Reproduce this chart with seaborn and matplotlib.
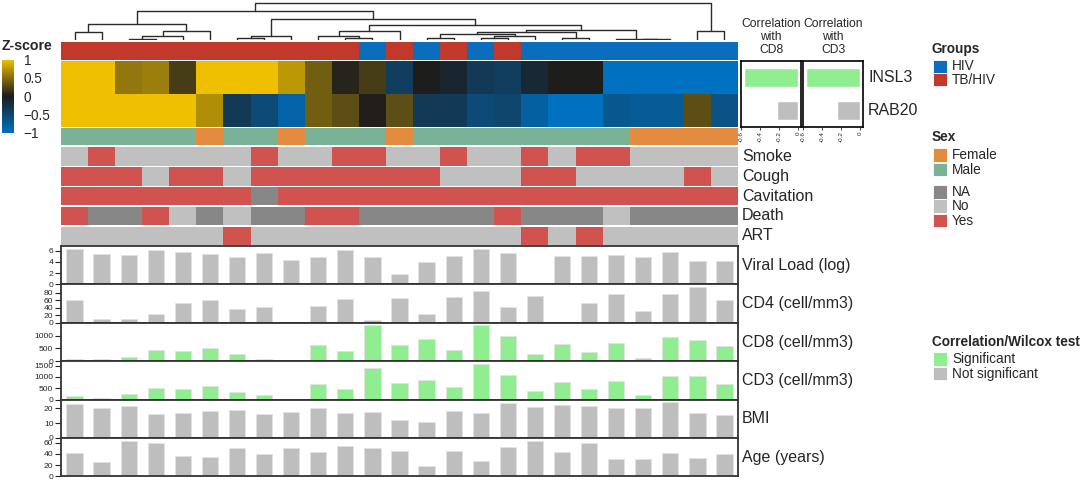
import numpy as np
import pandas as pd
import matplotlib.pyplot as plt
import seaborn as sns
from matplotlib.colors import LinearSegmentedColormap, ListedColormap
from matplotlib.patches import Rectangle

# ---- values ----
samples = [f"P{i + 1:02d}" for i in range(25)]
genes = ["INSL3", "RAB20"]

insl3 = [1, 1, 0.55, 0.6, 0.2, 1, 1, 1, 0.75, 0.4, 0.05, 0.2, -0.4, 0.0, -0.12,
         -0.35, -0.4, -0.15, 0.0, 0.0, -1, -1, -1, -1, -1]
rab20 = [1, 1, 1, 1, 1, 0.7, -0.35, -0.55, -0.85, 0.4, 0.3, 0.02, 0.3, -0.35, -0.35,
         -0.55, -0.5, -0.8, -1, -1, -0.7, -0.75, -0.75, 0.3, -0.65]

groups = ["TB/HIV", "TB/HIV", "TB/HIV", "TB/HIV", "TB/HIV", "TB/HIV", "TB/HIV", "TB/HIV",
          "TB/HIV", "TB/HIV", "TB/HIV", "HIV", "TB/HIV", "HIV", "TB/HIV", "HIV", "TB/HIV",
          "HIV", "HIV", "HIV", "HIV", "HIV", "HIV", "HIV", "HIV"]
sex = ["Male", "Male", "Male", "Male", "Male", "Female", "Male", "Male", "Female", "Male",
       "Male", "Male", "Female", "Male", "Male", "Male", "Male", "Male", "Male", "Male",
       "Male", "Female", "Female", "Female", "Female"]
smoke = ["No", "Yes", "No", "No", "No", "No", "No", "Yes", "No", "No", "Yes", "Yes", "No",
         "No", "Yes", "No", "No", "Yes", "No", "Yes", "Yes", "No", "No", "No", "No"]
cough = ["Yes", "Yes", "Yes", "No", "Yes", "Yes", "No", "Yes", "Yes", "Yes", "Yes", "Yes",
         "Yes", "Yes", "No", "No", "No", "Yes", "Yes", "No", "No", "No", "No", "Yes", "No"]
cavitation = ["Yes", "Yes", "Yes", "Yes", "Yes", "Yes", "Yes", "NA", "Yes", "Yes", "Yes",
              "Yes", "Yes", "Yes", "Yes", "Yes", "Yes", "Yes", "Yes", "Yes", "Yes", "Yes",
              "Yes", "Yes", "Yes"]
death = ["Yes", "NA", "NA", "Yes", "No", "NA", "No", "NA", "NA", "Yes", "Yes", "NA", "NA",
         "NA", "NA", "NA", "Yes", "NA", "NA", "NA", "No", "NA", "NA", "NA", "NA"]
art = ["No", "No", "No", "No", "No", "No", "Yes", "No", "No", "No", "No", "No", "No", "No",
       "No", "No", "No", "Yes", "No", "Yes", "No", "No", "No", "No", "No"]

nan = np.nan
viral_load = [6.4, 5.5, 5.2, 6.2, 5.7, 5.5, 4.85, 5.6, 4.3, 4.9, 6.1, 4.9, 1.9, 4.05, 5.0,
              6.4, 5.6, nan, 5.1, 5.0, 5.3, 4.85, 5.8, 4.2, 4.1]
cd4 = [60, 10, 9, 22, 52, 61, 37, 43, nan, 44, 63, 7, 66, 23, 68, 83, 42, 70, 2, 53, 75,
       31, 75, 95, 60]
cd8 = [80, 70, 165, 440, 385, 520, 275, 95, nan, 645, 385, 1400, 620, 850, 450, 1400, 1000,
       290, 660, 370, 700, 110, 930, 820, 590]
cd3 = [180, 90, 240, 490, 460, 610, 340, 195, nan, 690, 480, 1390, 750, 870, 570, 1580, 1075,
       400, 780, 460, 820, 195, 1060, 1045, 700]
bmi = [22.5, 19.8, 21.2, 16.3, 16.5, 17.9, 18.4, 16.3, 17.2, 20.0, 16.5, 17.7, 11.9, 10.9,
       17.9, 16.7, 23.5, 20.9, 22.1, 21.4, 20.2, 19.8, 24.0, 16.7, 15.1]
age = [41, 25, 64, 59.5, 35.5, 34, 51, 40, 50, 43.5, 54.6, 51, 46, 18, 45, 27, 53, 63, 43,
       60, 31, 31, 41, 33, 40]

corr_cd8 = [-0.57, -0.22]
corr_cd3 = [-0.57, -0.24]
corr_test = ["Significant", "Not significant"]

# dendrogram merges: (left node, right node, height); nodes >= 25 are earlier merges
merges = [(2, 3, 3), (25, 4, 13), (26, 5, 27), (0, 1, 23), (28, 27, 48),
          (6, 7, 5), (30, 8, 13), (10, 11, 7), (9, 32, 13), (33, 12, 27),
          (13, 14, 7), (15, 16, 5), (36, 17, 13), (35, 37, 17), (18, 19, 7),
          (38, 39, 23), (21, 22, 2), (20, 41, 3), (40, 42, 30), (34, 43, 45),
          (31, 44, 62), (29, 45, 87), (23, 24, 27), (46, 47, 112)]

# ---- colours ----
group_levels, group_colors = ["HIV", "TB/HIV"], ["#0A6EBD", "#C0392B"]
sex_levels, sex_colors = ["Female", "Male"], ["#E38B3F", "#7AB298"]
yn_levels, yn_colors = ["NA", "No", "Yes"], ["#878787", "#C0C0C0", "#D05350"]
test_levels, test_colors = ["Significant", "Not significant"], ["#90EE90", "#BEBEBE"]
zcmap = LinearSegmentedColormap.from_list("z", ["#0070C0", "#1C1C1C", "#EFC000"])

sns.set_theme(style="white")
plt.rcParams["font.family"] = ["Liberation Sans", "DejaVu Sans"]

W, H = 1084, 482
fig = plt.figure(figsize=(W / 100, H / 100), dpi=100)


def box(x, y, w, h):
    # axes placed in pixel units measured from the top-left corner
    return fig.add_axes([x / W, 1 - (y + h) / H, w / W, h / H])


X0, WID = 61, 677

# dendrogram
ax_den = box(X0, 0, WID, 40)
pos = {i: i + 0.5 for i in range(len(samples))}
hgt = {i: 0 for i in range(len(samples))}
for k, (a, b, h) in enumerate(merges):
    node = len(samples) + k
    ax_den.plot([pos[a], pos[a], pos[b], pos[b]], [hgt[a], h, h, hgt[b]],
                color="#2b2b2b", lw=1)
    pos[node] = (pos[a] + pos[b]) / 2
    hgt[node] = h
ax_den.set_xlim(0, len(samples))
ax_den.set_ylim(0, 120)
ax_den.axis("off")


def cat_row(y, h, values, levels, colors):
    ax = box(X0, y, WID, h)
    codes = [levels.index(v) for v in values]
    sns.heatmap(pd.DataFrame([codes], columns=samples), ax=ax,
                cmap=ListedColormap(colors), vmin=-0.5, vmax=len(levels) - 0.5,
                cbar=False, xticklabels=False, yticklabels=False)
    return ax


cat_row(41.5, 18, groups, group_levels, group_colors)

# expression heatmap + colour key
ax_heat = box(X0, 61, WID, 66)
ax_cbar = box(2, 59.5, 12, 73)
sns.heatmap(pd.DataFrame([insl3, rab20], index=genes, columns=samples), ax=ax_heat,
            cmap=zcmap, vmin=-1, vmax=1, cbar_ax=ax_cbar,
            xticklabels=False, yticklabels=False)
cbar = ax_heat.collections[0].colorbar
cbar.outline.set_visible(False)
cbar.set_ticks([-1, -0.5, 0, 0.5, 1])
cbar.set_ticklabels(["\u22121", "\u22120.5", "0", "0.5", "1"])
ax_cbar.tick_params(axis="y", direction="in", length=3, width=1, color="white",
                    left=True, right=True, pad=7, labelsize=9.8)

cat_row(127.5, 17.5, sex, sex_levels, sex_colors)
annot_rows = [("Smoke", smoke), ("Cough", cough), ("Cavitation", cavitation),
              ("Death", death), ("ART", art)]
for i, (name, vals) in enumerate(annot_rows):
    cat_row(147.3 + 19.8 * i, 18.4, vals, yn_levels, yn_colors)

# clinical bar panels
panels = [("Viral Load (log)", viral_load, [0, 2, 4, 6], test_colors[1]),
          ("CD4 (cell/mm3)", cd4, [0, 20, 40, 60, 80], test_colors[1]),
          ("CD8 (cell/mm3)", cd8, [0, 500, 1000], test_colors[0]),
          ("CD3 (cell/mm3)", cd3, [0, 500, 1000, 1500], test_colors[0]),
          ("BMI", bmi, [0, 10, 20], test_colors[1]),
          ("Age (years)", age, [0, 20, 40, 60], test_colors[1])]
panel_top = 246
panel_h = 38.4
for k, (label, vals, ticks, col) in enumerate(panels):
    ax = box(X0, panel_top + panel_h * k, WID, panel_h)
    df = pd.DataFrame({"sample": samples, "value": vals})
    sns.barplot(data=df, x="sample", y="value", order=samples, color=col,
                saturation=1, width=0.6, errorbar=None, edgecolor="#e2e2e2",
                linewidth=0.6, ax=ax)
    ax.set_xlim(-0.5, len(samples) - 0.5)
    ax.set_ylim(0, np.nanmax(vals) * 1.07)
    ax.set_yticks(ticks)
    ax.set_yticklabels([str(t) for t in ticks])
    ax.set_xticks([])
    ax.set_xlabel("")
    ax.set_ylabel("")
    ax.tick_params(axis="y", left=True, length=4, width=0.8, pad=1.5, labelsize=6.1,
                   color="#222222")
    for sp in ax.spines.values():
        sp.set_color("#333333")
        sp.set_linewidth(1.3)
    fig.text(742 / W, 1 - (panel_top + panel_h * (k + 0.5)) / H, label,
             fontsize=11.5, va="center", ha="left")

# correlation row annotations
for j, vals in enumerate([corr_cd8, corr_cd3]):
    ax = box(741 + 62 * j, 61, 60, 66)
    df = pd.DataFrame({"gene": genes, "r": vals, "test": corr_test})
    sns.barplot(data=df, x="r", y="gene", hue="test", hue_order=test_levels,
                palette=test_colors, order=genes, orient="h", dodge=False,
                width=0.6, saturation=1, legend=False, ax=ax)
    ax.set_xlim(-0.6, 0.03)
    ax.set_xticks([-0.6, -0.4, -0.2, 0])
    ax.set_xticklabels(["-0.6", "-0.4", "-0.2", "0"], rotation=90)
    ax.tick_params(axis="x", bottom=True, length=2, width=0.6, pad=1, labelsize=4.5)
    ax.set_yticks([])
    ax.set_xlabel("")
    ax.set_ylabel("")
    for sp in ax.spines.values():
        sp.set_color("black")
        sp.set_linewidth(1.2)

# overlay for labels and legends (pixel coordinates)
ov = fig.add_axes([0, 0, 1, 1])
ov.set_xlim(0, W)
ov.set_ylim(H, 0)
ov.axis("off")

ov.text(2, 46.5, "Z-score", fontsize=10.2, fontweight="bold", va="center")
for j, name in enumerate(["CD8", "CD3"]):
    ov.text(771 + 62 * j, 37, f"Correlation\nwith\n{name}", fontsize=8.7,
            ha="center", va="center", linespacing=1.15)
for i, g in enumerate(genes):
    ov.text(868, 78 + 32.5 * i, g, fontsize=11.5, va="center")
for i, (name, _) in enumerate(annot_rows):
    ov.text(742, 156.5 + 19.8 * i, name, fontsize=11.5, va="center")


def legend_block(title, y_title, labels, colors, y_first, step):
    if title:
        ov.text(932, y_title, title, fontsize=9.8, fontweight="bold", va="center")
    for i, (lab, c) in enumerate(zip(labels, colors)):
        y = y_first + i * step
        ov.add_patch(Rectangle((933, y), 14, step - 0.8, facecolor=c,
                               edgecolor="white", lw=0.6))
        ov.text(952, y + step / 2, lab, fontsize=9.8, va="center")


legend_block("Groups", 49, group_levels, group_colors, 59.5, 13.8)
legend_block("Sex", 137, sex_levels, sex_colors, 148, 14.5)
legend_block(None, 0, yn_levels, yn_colors, 185, 14.3)
legend_block("Correlation/Wilcox test", 342, test_levels, test_colors, 352, 14.5)

fig.savefig("out.png", dpi=100)
